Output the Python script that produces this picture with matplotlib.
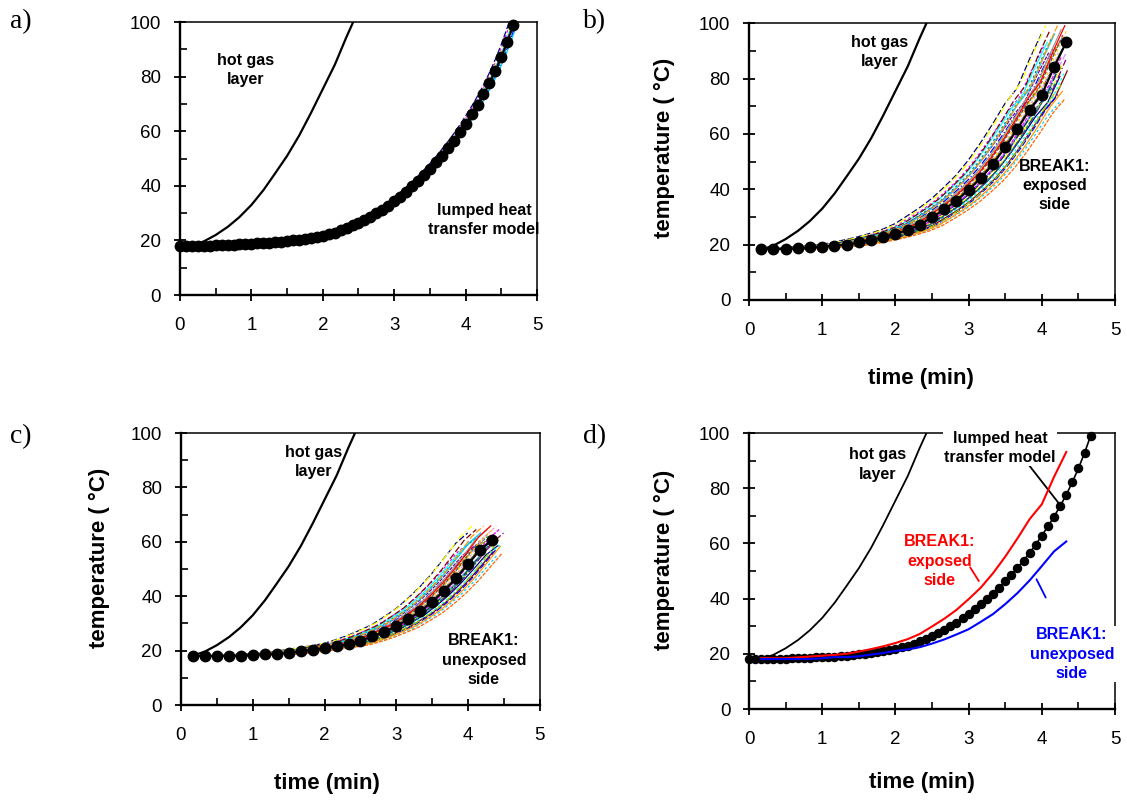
import matplotlib
matplotlib.use('Agg')
import matplotlib.pyplot as plt
import numpy as np

plt.rcParams['font.family'] = ['Liberation Sans', 'DejaVu Sans']

# hot gas layer (same in all panels)
gas_t = [0.17, 0.33, 0.5, 0.67, 0.83, 1.0, 1.17, 1.33, 1.5, 1.67, 1.83, 2.0, 2.17, 2.33, 2.45]
gas_T = [18.2, 19.6, 22.0, 25.0, 28.5, 33.0, 38.5, 44.5, 51.0, 58.5, 66.5, 75.5, 84.5, 94.5, 101.5]

# lumped heat transfer model, one value every 5 s
lumped_T = [18.0, 18.0, 18.0, 18.0, 18.1, 18.1, 18.2, 18.3, 18.4, 18.5,
            18.6, 18.7, 18.8, 18.9, 19.0, 19.2, 19.3, 19.5, 19.8, 20.0,
            20.3, 20.6, 21.0, 21.4, 21.8, 22.3, 22.9, 23.7, 24.6, 25.5,
            26.4, 27.6, 28.7, 30.0, 31.3, 32.8, 34.4, 36.1, 37.9, 39.8,
            41.8, 43.9, 46.2, 48.6, 51.1, 53.8, 56.6, 59.6, 62.8, 66.2,
            69.7, 73.5, 77.6, 82.2, 87.2, 92.8, 99.0]
lumped_t = np.arange(len(lumped_T)) * 5 / 60

# BREAK1 mean temperatures, one value every 10 s starting at 10 s
exposed_T = [18.4, 18.4, 18.4, 18.7, 19.0, 19.3, 19.6, 20.0, 20.8, 21.7,
             22.7, 23.9, 25.3, 27.2, 29.9, 32.7, 35.9, 39.8, 44.0, 49.2,
             55.2, 61.8, 68.8, 74.2, 84.1, 93.1]
unexposed_T = [18.1, 18.1, 18.1, 18.1, 18.1, 18.4, 18.8, 18.8, 19.1, 19.7,
               20.3, 21.0, 21.6, 22.4, 23.7, 25.2, 27.0, 28.9, 31.6, 34.4,
               38.0, 42.0, 46.6, 51.8, 57.1, 60.7]
break_t = np.arange(1, len(exposed_T) + 1) * 10 / 60
T_start = 18.0

# individual simulation runs: time offset (min) and rise factor of each run
a_shifts = [-0.07, -0.05, -0.035, -0.02, -0.01, 0.01, 0.02, 0.035, 0.05]
b_shifts = [-0.34, -0.31, -0.28, -0.26, -0.24, -0.22, -0.20, -0.18, -0.16, -0.14,
            -0.12, -0.10, -0.08, -0.07, -0.06, -0.05, -0.04, -0.03, -0.02, -0.01,
            0.00, 0.01, 0.02, 0.03, 0.04, 0.05, 0.06, 0.07, 0.08, 0.10,
            0.12, 0.14, 0.16, 0.18, 0.20, 0.22, 0.24, 0.26, 0.28, 0.31]
b_scales = [1.04, 0.98, 1.08, 1.00, 0.95, 1.06, 1.02, 0.97, 1.04, 0.98,
            1.08, 1.00, 0.95, 1.06, 1.02, 0.97, 1.04, 0.98, 1.08, 1.00,
            0.95, 1.06, 1.02, 0.97, 1.04, 0.98, 1.08, 1.00, 0.95, 1.06,
            1.02, 0.97, 1.04, 0.98, 1.08, 1.00, 0.95, 1.06, 1.02, 0.97]
c_shifts = [-0.34, -0.31, -0.28, -0.26, -0.24, -0.22, -0.20, -0.18, -0.16, -0.14,
            -0.12, -0.10, -0.08, -0.07, -0.06, -0.05, -0.04, -0.03, -0.02, -0.01,
            0.00, 0.01, 0.02, 0.03, 0.04, 0.05, 0.06, 0.07, 0.08, 0.10,
            0.12, 0.14, 0.16, 0.18, 0.20, 0.22, 0.24, 0.26, 0.28, 0.31]
c_scales = [1.06, 0.98, 1.12, 1.00, 0.95, 1.09, 1.03, 0.97, 1.06, 0.98,
            1.12, 1.00, 0.95, 1.09, 1.03, 0.97, 1.06, 0.98, 1.12, 1.00,
            0.95, 1.09, 1.03, 0.97, 1.06, 0.98, 1.12, 1.00, 0.95, 1.09,
            1.03, 0.97, 1.06, 0.98, 1.12, 1.00, 0.95, 1.09, 1.03, 0.97]

band_colors = ['#000080', '#FF00FF', '#FFFF00', '#00FFFF', '#800080', '#800000',
               '#008080', '#0000FF', '#00CCFF', '#99CC00', '#FF9900', '#FF6600',
               '#666699', '#969696', '#339966', '#993300', '#993366', '#333399',
               '#FF0000', '#00FF00', '#CC99FF', '#FFCC00', '#3366FF', '#33CCCC',
               '#808000', '#808080', '#FF99CC', '#003366']
band_dashes = [(0, (5, 2)), (0, (2, 2)), (0, (6, 2, 1, 2)), '-', (0, (3, 1))]

ann = dict(fontsize=11.5, fontweight='bold', ha='center', va='center', linespacing=1.35)
lab = dict(fontsize=16, fontweight='bold', ha='center', va='center')


def style(ax):
    ax.set_xlim(0, 5)
    ax.set_ylim(0, 100)
    ax.set_xticks(range(6))
    ax.set_xticks(np.arange(0.5, 5, 1), minor=True)
    ax.set_yticks(range(0, 101, 20))
    ax.set_yticks(range(10, 100, 20), minor=True)
    ax.tick_params(which='major', direction='inout', length=9, width=1.3, labelsize=13.5)
    ax.tick_params(which='minor', direction='in', length=5, width=1.2)
    ax.tick_params(axis='x', which='major', pad=11)
    ax.tick_params(axis='y', which='major', pad=9)
    for s in ['left', 'bottom']:
        ax.spines[s].set_linewidth(1.7)
    for s in ['top', 'right']:
        ax.spines[s].set_linewidth(1.1)


def draw_band(ax, t, T, shifts, scales, t_min, t_max):
    t = np.asarray(t)
    T = np.asarray(T)
    for k, dt in enumerate(shifts):
        x = t + dt
        y = T_start + (T - T_start) * scales[k]
        keep = (x <= t_max) & (x >= t_min)
        ax.plot(x[keep], y[keep], color=band_colors[k % len(band_colors)],
                lw=0.9, ls=band_dashes[k % len(band_dashes)], zorder=2)


def axis_labels(ax, xpos, ypos):
    ax.text(xpos[0], xpos[1], 'time (min)', transform=ax.transAxes, **lab)
    ax.text(ypos[0], ypos[1], 'temperature ( °C)', transform=ax.transAxes,
            rotation=90, **lab)


fig = plt.figure(figsize=(11.27, 8), dpi=100)
ax_a = fig.add_axes([0.1597, 0.63125, 0.3168, 0.341])
ax_b = fig.add_axes([0.6646, 0.625, 0.3248, 0.346])
ax_c = fig.add_axes([0.1606, 0.11875, 0.3185, 0.34])
ax_d = fig.add_axes([0.6646, 0.11375, 0.3248, 0.345])

# a) lumped model
style(ax_a)
ax_a.plot(gas_t, gas_T, color='black', lw=1.6, zorder=3)
draw_band(ax_a, lumped_t, lumped_T, a_shifts, [1.0] * len(a_shifts), 0, 5)
ax_a.plot(lumped_t, lumped_T, color='black', lw=1.2, marker='o', ms=7.5,
          zorder=4, clip_on=False)
ax_a.text(0.92, 82.4, 'hot gas\nlayer', **ann)
ax_a.text(4.26, 27.6, 'lumped heat\ntransfer model', **ann)

# b) exposed side
style(ax_b)
ax_b.plot(gas_t, gas_T, color='black', lw=1.6, zorder=3)
draw_band(ax_b, break_t, exposed_T, b_shifts, b_scales, 0.15, 4.36)
ax_b.plot(break_t, exposed_T, color='black', lw=1.5, marker='o', ms=7.5, zorder=4)
ax_b.text(1.78, 89.7, 'hot gas\nlayer', **ann)
ax_b.text(4.17, 41.3, 'BREAK1:\nexposed\nside', **ann)
axis_labels(ax_b, (0.47, -0.282), (-0.23, 0.55))

# c) unexposed side
style(ax_c)
ax_c.plot(gas_t, gas_T, color='black', lw=1.6, zorder=3)
draw_band(ax_c, break_t, unexposed_T, c_shifts, c_scales, 0.15, 4.5)
ax_c.plot(break_t, unexposed_T, color='black', lw=1.5, marker='o', ms=7.5, zorder=4)
ax_c.text(1.85, 89.3, 'hot gas\nlayer', **ann)
ax_c.text(4.22, 16.5, 'BREAK1:\nunexposed\nside', **ann)
axis_labels(ax_c, (0.407, -0.287), (-0.226, 0.54))

# d) comparison
style(ax_d)
ax_d.plot(gas_t, gas_T, color='black', lw=1.3, zorder=3)
ax_d.plot(break_t, exposed_T, color='#FF0000', lw=1.5, zorder=6)
ax_d.plot(break_t, unexposed_T, color='#0000FF', lw=1.5, zorder=6)
ax_d.plot(lumped_t, lumped_T, color='black', lw=1.2, marker='o', ms=5.8,
          zorder=4, clip_on=False)
ax_d.text(1.76, 88.6, 'hot gas\nlayer', **ann)
ax_d.text(3.43, 94.6, 'lumped heat\ntransfer model', zorder=5,
          bbox=dict(facecolor='white', edgecolor='none', pad=1), **ann)
ax_d.text(2.60, 53.6, 'BREAK1:\nexposed\nside', color='#FF0000', **ann)
ax_d.text(4.41, 19.9, 'BREAK1:\nunexposed\nside', color='#0000FF', zorder=5,
          bbox=dict(facecolor='white', edgecolor='none', pad=1), **ann)
ax_d.annotate('', xy=(4.25, 73.9), xytext=(3.77, 90.2),
              arrowprops=dict(arrowstyle='-', color='black', lw=1.3))
ax_d.annotate('', xy=(3.16, 45.5), xytext=(3.0, 52.2),
              arrowprops=dict(arrowstyle='-', color='#FF0000', lw=1.3))
ax_d.annotate('', xy=(4.07, 39.5), xytext=(3.91, 47.9),
              arrowprops=dict(arrowstyle='-', color='#0000FF', lw=1.3))
axis_labels(ax_d, (0.473, -0.268), (-0.23, 0.54))

for letter, x, y in [('a)', 0.009, 0.973), ('b)', 0.517, 0.973),
                     ('c)', 0.009, 0.454), ('d)', 0.517, 0.454)]:
    fig.text(x, y, letter, fontsize=20, family='Liberation Serif', ha='left', va='center')

fig.savefig('out.png', dpi=100)
